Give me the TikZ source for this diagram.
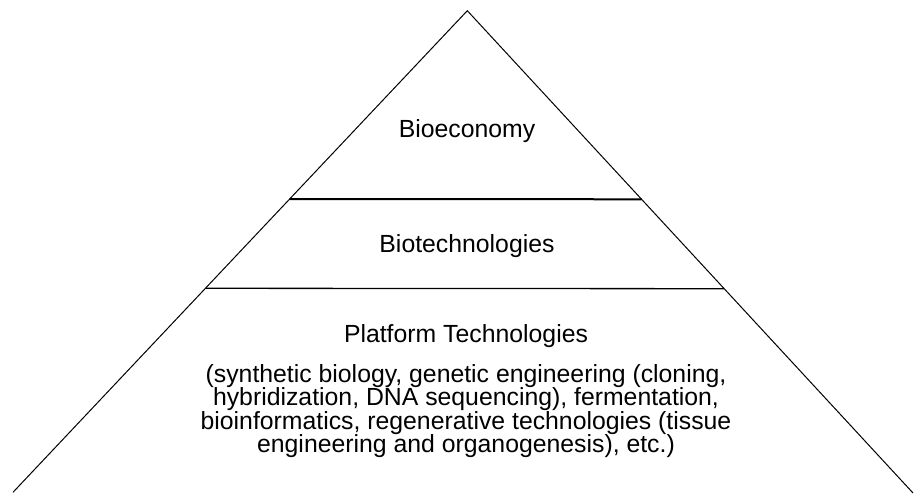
\documentclass[tikz,border=0pt]{standalone}
\usepackage{fontspec}
\setmainfont{Liberation Sans}
\usetikzlibrary{calc}
\tikzset{
  side/.style={line width=1pt, line join=round},
  band/.style={line width=1.3pt},
  lbl/.style={anchor=base, inner sep=0pt, font=\fontsize{24.8}{23.5}\selectfont, align=center}
}
\begin{document}
\begin{tikzpicture}[x=1pt,y=-1pt]
\useasboundingbox (0,0) rectangle (915,493);
\coordinate (apex) at (467.3,10.7);
\coordinate (bl) at (13,492.3);
\coordinate (br) at (913,493);
\draw[side] (bl) -- (apex) -- (br);
\coordinate (l1) at ($(apex)!0.391!(bl)$);
\coordinate (r1) at ($(apex)!0.391!(br)$);
\coordinate (l2) at ($(apex)!0.5764!(bl)$);
\coordinate (r2) at ($(apex)!0.5764!(br)$);
\draw[band, line width=2pt] (l1) -- (r1);
\draw[band] (l2) -- (r2);
\node[lbl] (bioeco) at (467,137) {Bioeconomy};
\node[lbl] (biotech) at (467,252) {Biotechnologies};
\node[lbl] (platform) at (466,342) {Platform Technologies};
\node[lbl] (details) at (466,452.5) {(synthetic biology, genetic engineering (cloning,\\
hybridization, DNA sequencing), fermentation,\\
bioinformatics, regenerative technologies (tissue\\
engineering and organogenesis), etc.)};
\end{tikzpicture}
\end{document}
